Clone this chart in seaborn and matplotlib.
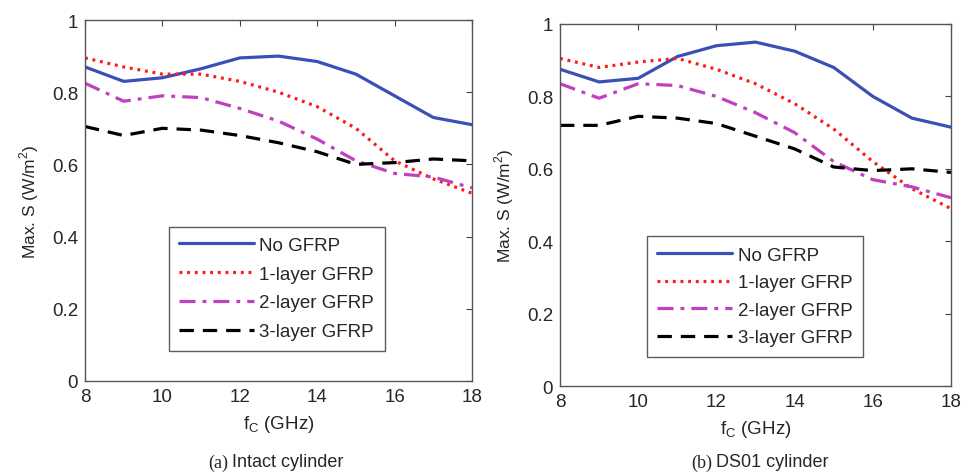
import numpy as np
import pandas as pd
import matplotlib
matplotlib.use("Agg")
import matplotlib.pyplot as plt
import seaborn as sns

freq = [8, 9, 10, 11, 12, 13, 14, 15, 16, 17, 18]
series_names = ["No GFRP", "1-layer GFRP", "2-layer GFRP", "3-layer GFRP"]

intact_no = [0.87, 0.83, 0.84, 0.865, 0.895, 0.90, 0.885, 0.85, 0.79, 0.73, 0.71]
intact_l1 = [0.895, 0.87, 0.85, 0.85, 0.83, 0.80, 0.76, 0.70, 0.61, 0.56, 0.52]
intact_l2 = [0.825, 0.775, 0.79, 0.785, 0.755, 0.72, 0.67, 0.61, 0.575, 0.565, 0.535]
intact_l3 = [0.705, 0.68, 0.70, 0.695, 0.68, 0.66, 0.635, 0.60, 0.605, 0.615, 0.61]

ds01_no = [0.875, 0.84, 0.85, 0.91, 0.94, 0.95, 0.925, 0.88, 0.80, 0.74, 0.715]
ds01_l1 = [0.905, 0.88, 0.895, 0.905, 0.875, 0.835, 0.78, 0.71, 0.62, 0.545, 0.49]
ds01_l2 = [0.835, 0.795, 0.835, 0.83, 0.80, 0.755, 0.70, 0.62, 0.57, 0.55, 0.52]
ds01_l3 = [0.72, 0.72, 0.745, 0.74, 0.725, 0.69, 0.655, 0.605, 0.595, 0.60, 0.59]

caption_tags = ["(a)", "(b)"]
caption_texts = ["Intact cylinder", "DS01 cylinder"]
x_ticks = [8, 10, 12, 14, 16, 18]
y_ticks = [0, 0.2, 0.4, 0.6, 0.8, 1]
y_tick_labels = ["0", "0.2", "0.4", "0.6", "0.8", "1"]

colors = ["#3a4fb8", "#ff1a1a", "#c040c0", "#000000"]
styles = ["-", (0, (0.9, 1.5)), (0, (5, 2.2, 1.2, 2.2)), (0, (4.5, 2.8))]

sns.set_theme(style="white")
plt.rcParams["font.family"] = ["Liberation Sans", "DejaVu Sans"]

fig = plt.figure(figsize=(9.61, 4.77), dpi=100)
ax_rects = [[85 / 961, 1 - 382 / 477, 387 / 961, 361 / 477],
            [560 / 961, 1 - 387 / 477, 391 / 961, 362 / 477]]
legend_rects = [(168, 226, 217, 127), (652, 238, 206, 119)]
caption_x = [(228, 232), (712, 716)]

panels = [[intact_no, intact_l1, intact_l2, intact_l3],
          [ds01_no, ds01_l1, ds01_l2, ds01_l3]]

for p, (rect, data) in enumerate(zip(ax_rects, panels)):
    ax = fig.add_axes(rect)
    rows = []
    for name, vals in zip(series_names, data):
        for f, v in zip(freq, vals):
            rows.append({"freq": f, "S": v, "series": name})
    df = pd.DataFrame(rows)
    for name, c, ls in zip(series_names, colors, styles):
        sns.lineplot(data=df[df.series == name], x="freq", y="S", ax=ax,
                     color=c, linestyle=ls, linewidth=2.3, label=name)
    ax.set_xlim(8, 18)
    ax.set_ylim(0, 1)
    ax.set_xticks(x_ticks)
    ax.set_xticklabels([str(t) for t in x_ticks])
    ax.set_yticks(y_ticks)
    ax.set_yticklabels(y_tick_labels)
    ax.tick_params(direction="in", length=4, width=0.8, top=True, right=True,
                   labelsize=13.5, color="#444444", pad=5)
    for sp in ax.spines.values():
        sp.set_color("#555555")
        sp.set_linewidth(1.0)
    ax.set_xlabel("f$_\\mathregular{C}$ (GHz)", fontsize=13.5, labelpad=6)
    ax.set_ylabel("Max. S (W/m$^\\mathregular{2}$)", fontsize=12.5, labelpad=8)
    lx, ly, lw, lh = legend_rects[p]
    bbox = (lx / 961, 1 - (ly + lh) / 477, lw / 961, lh / 477)
    leg = ax.legend(loc="center", bbox_to_anchor=bbox, bbox_transform=fig.transFigure,
                    fontsize=13.5, frameon=True, fancybox=False, handlelength=4.0,
                    handletextpad=0.3, borderpad=0.55,
                    labelspacing=0.62 if p == 0 else 0.55,
                    edgecolor="#333333")
    leg.get_frame().set_linewidth(1.0)
    tx, sx = caption_x[p]
    fig.text(tx / 961, 1 - 463 / 477, caption_tags[p], ha="right", va="center",
             fontsize=13, family=["Liberation Serif", "DejaVu Serif"])
    fig.text(sx / 961, 1 - 463 / 477, caption_texts[p], ha="left", va="center",
             fontsize=13)

fig.savefig("out.png", dpi=100, facecolor="white")
